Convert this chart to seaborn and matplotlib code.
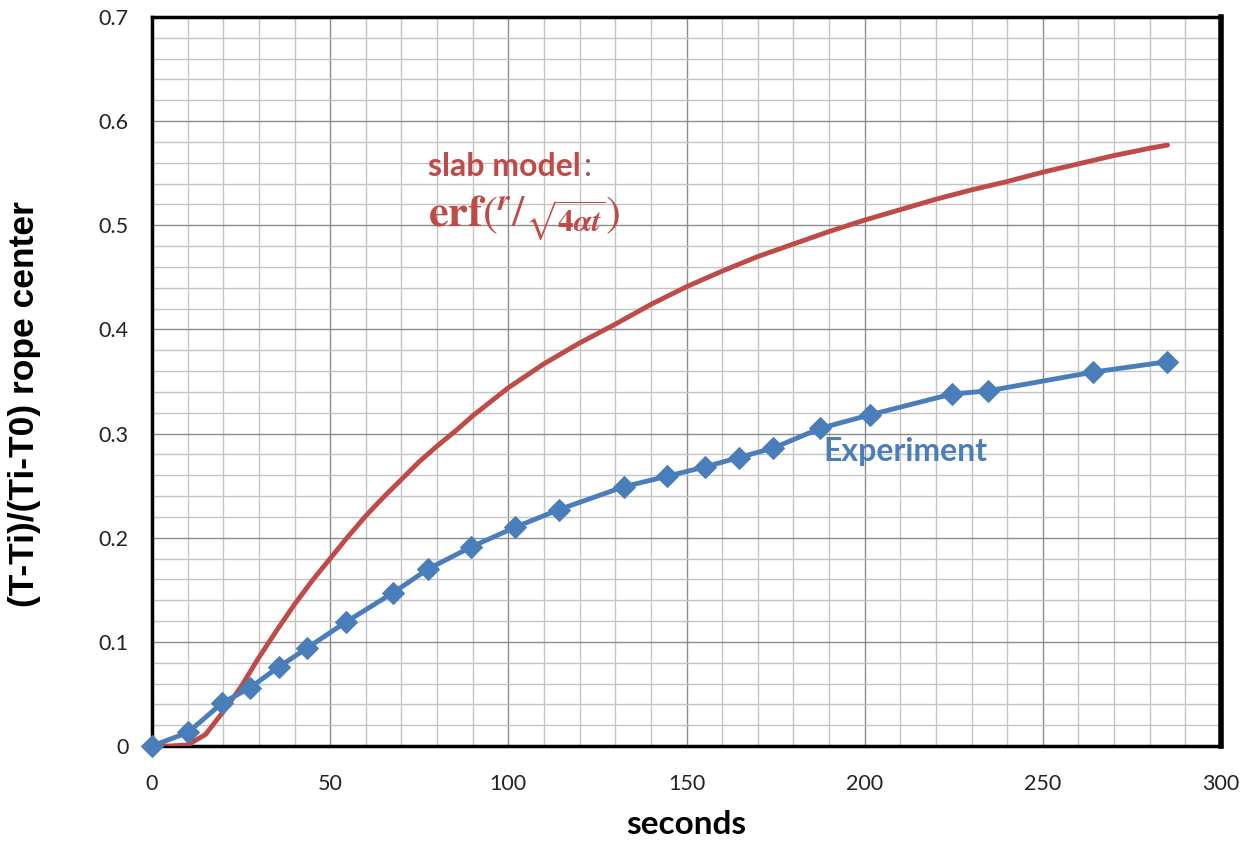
import matplotlib
matplotlib.use("Agg")
import matplotlib.pyplot as plt
import seaborn as sns
import pandas as pd
from matplotlib.ticker import MultipleLocator, FixedLocator

# Experiment data
exp_t = [0, 10.1, 19.6, 27.5, 35.6, 43.5, 54.4, 67.6, 77.5, 89.5, 101.9, 114.2,
         132.5, 144.5, 155.2, 164.7, 174.3, 187.5, 201.5, 224.5, 234.6, 264.1, 284.9]
exp_y = [0, 0.013, 0.041, 0.056, 0.076, 0.094, 0.119, 0.147, 0.170, 0.191, 0.210, 0.227,
         0.249, 0.259, 0.268, 0.277, 0.286, 0.305, 0.318, 0.338, 0.341, 0.359, 0.369]

# Slab model curve
mod_t = [0, 5, 10, 15, 20, 25, 30, 35, 40, 45, 50, 55, 60, 65, 70, 75, 80, 85, 90,
         100, 110, 120, 130, 140, 150, 160, 170, 180, 190, 200, 210, 220, 230, 240,
         250, 260, 270, 280, 285]
mod_y = [0, 0, 0.001, 0.011, 0.033, 0.057, 0.085, 0.111, 0.136, 0.159, 0.180, 0.201,
         0.221, 0.239, 0.256, 0.273, 0.288, 0.302, 0.317, 0.344, 0.367, 0.387, 0.405,
         0.424, 0.441, 0.456, 0.470, 0.482, 0.494, 0.505, 0.515, 0.525, 0.534, 0.542,
         0.551, 0.559, 0.567, 0.574, 0.577]

xticks = [0, 50, 100, 150, 200, 250, 300]
yticks = [0, 0.1, 0.2, 0.3, 0.4, 0.5, 0.6, 0.7]
yticklabels = ["0", "0.1", "0.2", "0.3", "0.4", "0.5", "0.6", "0.7"]

sns.set_style("white")
plt.rcParams['font.family'] = ['Lato', 'DejaVu Sans']

BLUE = "#4A7EBB"
RED = "#BE4B48"

fig = plt.figure(figsize=(12.47, 8.42), dpi=100)
ax = fig.add_axes([152/1247, 1-746/842, (1221-152)/1247, (746-17)/842])

df_exp = pd.DataFrame({"t": exp_t, "y": exp_y})
df_mod = pd.DataFrame({"t": mod_t, "y": mod_y})

sns.lineplot(data=df_mod, x="t", y="y", ax=ax, color=RED, linewidth=3.5, zorder=3)
sns.lineplot(data=df_exp, x="t", y="y", ax=ax, color=BLUE, linewidth=3.5,
             marker="D", markersize=11, markeredgecolor=BLUE, zorder=4, clip_on=False)

ax.set_xlim(0, 300)
ax.set_ylim(0, 0.7)
ax.xaxis.set_major_locator(FixedLocator(xticks))
ax.yaxis.set_major_locator(FixedLocator(yticks))
ax.xaxis.set_minor_locator(MultipleLocator(10))
ax.yaxis.set_minor_locator(MultipleLocator(0.02))
ax.set_yticklabels(yticklabels)
ax.set_xticklabels([str(v) for v in xticks])

ax.grid(which="minor", color="#C4C4C4", linewidth=1.0, zorder=0)
ax.grid(which="major", color="#8C8C8C", linewidth=1.0, zorder=0)
ax.set_axisbelow(True)

ax.tick_params(axis="both", which="major", labelsize=15.5, colors="#222222",
               length=6, width=1, direction="out")
ax.tick_params(axis="both", which="minor", length=0)
ax.tick_params(axis="x", pad=14)
ax.tick_params(axis="y", pad=11)

for side, lw in [("left", 2.5), ("bottom", 2.5), ("top", 2.5), ("right", 4)]:
    ax.spines[side].set_visible(True)
    ax.spines[side].set_color("black")
    ax.spines[side].set_linewidth(lw)

ax.set_xlabel("seconds", fontsize=24, fontweight="bold", color="black")
ax.xaxis.set_label_coords(0.5, -(825 - 746) / 729)
ax.xaxis.label.set_va("center")
ax.set_ylabel("(T-Ti)/(Ti-T0) rope center", fontsize=25.5, fontweight="bold",
              family=["Liberation Sans", "DejaVu Sans"], color="black")
ax.yaxis.set_label_coords(-(152 - 25) / 1069, (746 - 404) / 729)
ax.yaxis.label.set_va("center")

t1 = ax.text(77.5, 0.556, "slab model", color=RED, fontsize=23, fontweight="bold",
             va="center", ha="left", zorder=5)
ax.annotate(":", xycoords=t1, xy=(1, 0.5), xytext=(2, 0), textcoords="offset points",
            color="#8a5a5a", fontsize=23, va="center", ha="left", zorder=5)
ax.text(77.5, 0.507, r"$\mathbf{erf}(^{\boldsymbol{r}}/_{\sqrt{\mathbf{4}\boldsymbol{\alpha t}}})$",
        color=RED, fontsize=32, va="center", ha="left", math_fontfamily="stix", zorder=5)
ax.text(188.5, 0.283, "Experiment", color=BLUE, fontsize=23, fontweight="bold",
        va="center", ha="left", zorder=5)

fig.savefig("out.png", dpi=100)
